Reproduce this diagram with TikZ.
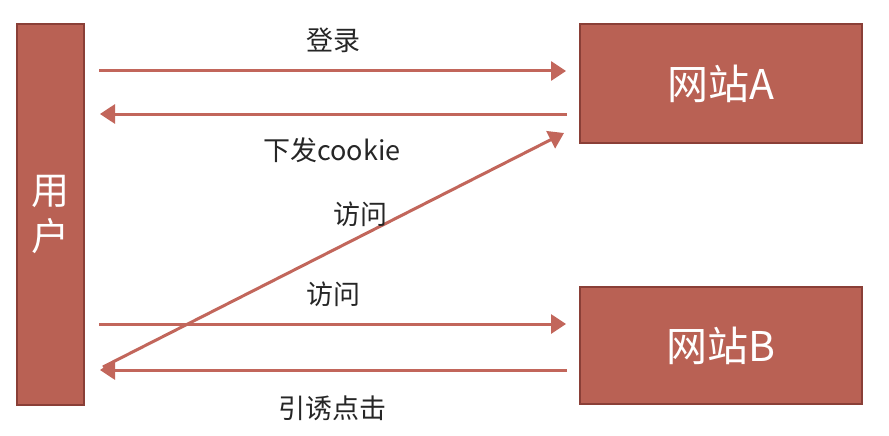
\documentclass[tikz,border=0pt]{standalone}
\usepackage{fontspec}
\setmainfont{Noto Sans CJK SC}
\usetikzlibrary{arrows.meta}
\definecolor{boxfill}{HTML}{B96154}
\definecolor{boxline}{HTML}{8A3F37}
\definecolor{arrowc}{HTML}{C2665B}
\begin{document}
\begin{tikzpicture}[x=1pt,y=-1pt,
  boxst/.style={draw=boxline,fill=boxfill,line width=1.6pt,inner sep=0pt},
  flow/.style={draw=arrowc,line width=3pt,-{Triangle[length=15pt,width=19pt]}},
  lbl/.style={font=\fontsize{27}{30}\selectfont,text=black!85,inner sep=0pt}]
\useasboundingbox[fill=white] (0,0) rectangle (889,436);
\node[boxst,minimum width=67pt,minimum height=381pt] (user) at (50.5,214.5) {};
\node[text=white,font=\fontsize{38}{46}\selectfont,align=center] at (user.center) {用\\户};
\node[boxst,minimum width=282pt,minimum height=119pt] (siteA) at (721,83.5) {};
\node[text=white,font=\fontsize{41}{46}\selectfont] at (siteA.center) {网站A};
\node[boxst,minimum width=282pt,minimum height=117pt] (siteB) at (721,345.5) {};
\node[text=white,font=\fontsize{41}{46}\selectfont] at (siteB.center) {网站B};
\coordinate (u1) at (99,71);   \coordinate (a1) at (566,71);
\coordinate (a2) at (567,114); \coordinate (u2) at (100,114);
\coordinate (u3) at (99,324);  \coordinate (b3) at (566,324);
\coordinate (b4) at (567,370); \coordinate (u4) at (100,370);
\coordinate (u5) at (103,367); \coordinate (a5) at (564,133);
\draw[flow] (u1) -- (a1);
\draw[flow] (a2) -- (u2);
\draw[flow] (u3) -- (b3);
\draw[flow] (b4) -- (u4);
\draw[flow] (u5) -- (a5);
\node[lbl] (l1) at (333,40) {登录};
\node[lbl] (l2) at (332,150) {下发cookie};
\node[lbl] (l3) at (360,214) {访问};
\node[lbl] (l4) at (333,294) {访问};
\node[lbl] (l5) at (332,408) {引诱点击};
\end{tikzpicture}
\end{document}
